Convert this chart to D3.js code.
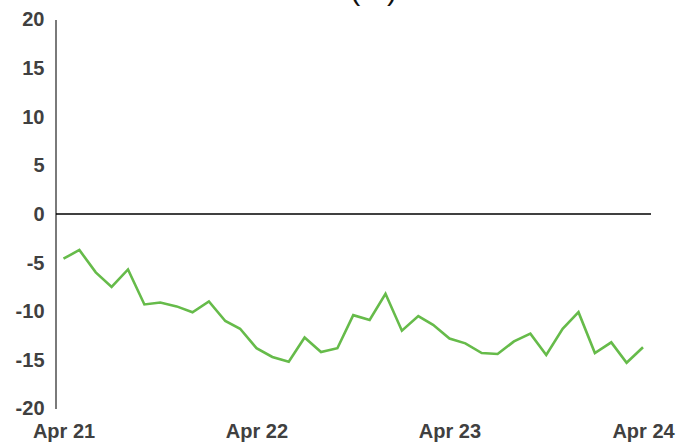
<!DOCTYPE html>
<html>
<head>
<meta charset="utf-8">
<script src="https://cdn.jsdelivr.net/npm/d3@7"></script>
<style>
  html, body { margin: 0; padding: 0; background: #fff; overflow: hidden; }
  svg { display: block; }
</style>
</head>
<body>
<svg id="chart" width="677" height="444"></svg>
<script>
const titleText = "(%)";
const startMonth = "2021-04";
const values = [
  -4.6, -3.7, -6.0, -7.5, -5.7, -9.3, -9.1, -9.5, -10.1, -9.0,
  -11.0, -11.8, -13.8, -14.7, -15.2, -12.7, -14.2, -13.8, -10.4, -10.9,
  -8.2, -12.0, -10.5, -11.4, -12.8, -13.3, -14.3, -14.4, -13.1, -12.3,
  -14.5, -11.8, -10.1, -14.3, -13.2, -15.3, -13.7
];
const yTicks = [-20, -15, -10, -5, 0, 5, 10, 15, 20];
const xTickDates = ["2021-04", "2022-04", "2023-04", "2024-04"];
const xTickLabels = ["Apr 21", "Apr 22", "Apr 23", "Apr 24"];

const parse = d3.timeParse("%Y-%m");
const start = parse(startMonth);
const data = values.map((v, i) => ({ date: d3.timeMonth.offset(start, i), value: v }));

const svg = d3.select("#chart");
const font = "'Liberation Sans', Arial, sans-serif";
const textColor = "#404040";

const x = d3.scaleTime()
  .domain([parse(xTickDates[0]), parse(xTickDates[xTickDates.length - 1])])
  .range([63.5, 643]);
const y = d3.scaleLinear().domain([-20, 20]).range([408.5, 19.5]);

// title (mostly clipped at top, as in the reference)
svg.append("text")
  .attr("x", 397).attr("y", 0)
  .attr("text-anchor", "end")
  .attr("font-family", font).attr("font-size", 30)
  .attr("fill", "#111")
  .text(titleText);

// y axis
const yAxis = d3.axisLeft(y).tickValues(yTicks).tickSize(0).tickPadding(11).tickFormat(d => String(d));
const gy = svg.append("g").attr("transform", "translate(55.5,0)").call(yAxis);
gy.select(".domain").attr("stroke", "#595959").attr("stroke-width", 1.6);
gy.selectAll("text")
  .attr("font-family", font).attr("font-size", 20).attr("font-weight", "bold")
  .attr("fill", textColor);

// zero line
svg.append("line")
  .attr("x1", 56).attr("x2", 651)
  .attr("y1", y(0)).attr("y2", y(0))
  .attr("stroke", "#000").attr("stroke-width", 1.5);

// x axis labels
const xAxis = d3.axisBottom(x)
  .tickValues(xTickDates.map(parse))
  .tickSize(0).tickPadding(0)
  .tickFormat((d, i) => xTickLabels[i]);
const gx = svg.append("g").attr("transform", "translate(0,423)").call(xAxis);
gx.select(".domain").remove();
gx.selectAll("text")
  .attr("dy", "0.75em")
  .attr("y", 0)
  .attr("font-family", font).attr("font-size", 20).attr("font-weight", "bold")
  .attr("fill", textColor);

// data line
svg.append("path")
  .datum(data)
  .attr("fill", "none")
  .attr("stroke", "#66bb4a")
  .attr("stroke-width", 2.6)
  .attr("stroke-linejoin", "miter")
  .attr("d", d3.line().x(d => x(d.date)).y(d => y(d.value)));
</script>
</body>
</html>
